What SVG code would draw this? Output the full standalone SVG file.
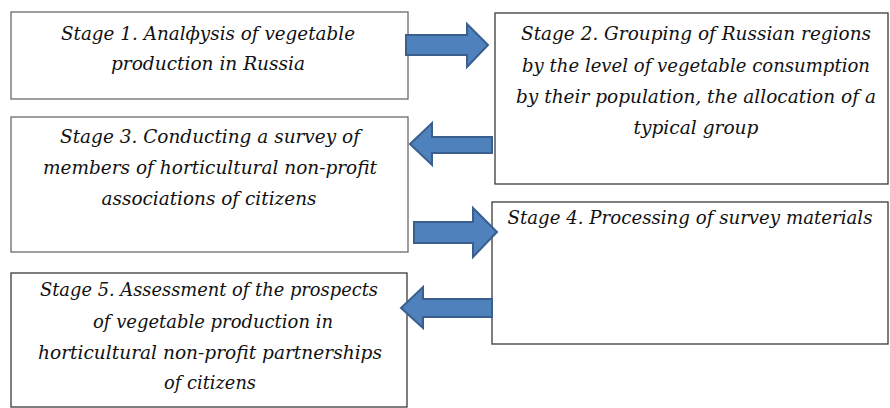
<svg xmlns="http://www.w3.org/2000/svg" width="890" height="408" viewBox="0 0 890 408">
  <style>
    .box { fill: #ffffff; stroke: #3a3a3a; stroke-width: 1.3; }
    .box.soft { stroke: #6a6a6a; }
    .lbl { font-family: "DejaVu Serif", "Liberation Serif", serif; font-style: italic; font-size: 18.5px; fill: #111111; text-anchor: middle; }
    .arrow { fill: #4f81bd; stroke: #3a5f8e; stroke-width: 2; stroke-linejoin: miter; }
  </style>
  <rect width="890" height="408" fill="#ffffff"/>

  <g id="stage1">
    <rect class="box soft" x="11" y="12" width="397" height="87"/>
    <text class="lbl" x="208" y="40" textLength="294" lengthAdjust="spacingAndGlyphs">Stage 1. Analфysis of vegetable</text>
    <text class="lbl" x="208" y="70" textLength="194" lengthAdjust="spacingAndGlyphs">production in Russia</text>
  </g>

  <g id="stage2">
    <rect class="box" x="495" y="13" width="393" height="171"/>
    <text class="lbl" x="696" y="40" textLength="350" lengthAdjust="spacingAndGlyphs">Stage 2. Grouping of Russian regions</text>
    <text class="lbl" x="696" y="72" textLength="348" lengthAdjust="spacingAndGlyphs">by the level of vegetable consumption</text>
    <text class="lbl" x="696" y="103" textLength="360" lengthAdjust="spacingAndGlyphs">by their population, the allocation of a</text>
    <text class="lbl" x="696" y="134" textLength="125" lengthAdjust="spacingAndGlyphs">typical group</text>
  </g>

  <g id="stage3">
    <rect class="box soft" x="11" y="117" width="397" height="135"/>
    <text class="lbl" x="210" y="143" textLength="300" lengthAdjust="spacingAndGlyphs">Stage 3. Conducting a survey of</text>
    <text class="lbl" x="210" y="174" textLength="334" lengthAdjust="spacingAndGlyphs">members of horticultural non-profit</text>
    <text class="lbl" x="209" y="205" textLength="215" lengthAdjust="spacingAndGlyphs">associations of citizens</text>
  </g>

  <g id="stage4">
    <rect class="box" x="492" y="202" width="396" height="142"/>
    <text class="lbl" x="690" y="224" textLength="365" lengthAdjust="spacingAndGlyphs">Stage 4. Processing of survey materials</text>
  </g>

  <g id="stage5">
    <rect class="box" x="11" y="273" width="396" height="134"/>
    <text class="lbl" x="209" y="296" textLength="338" lengthAdjust="spacingAndGlyphs">Stage 5. Assessment of the prospects</text>
    <text class="lbl" x="213" y="328" textLength="240" lengthAdjust="spacingAndGlyphs">of vegetable production in</text>
    <text class="lbl" x="210" y="359" textLength="344" lengthAdjust="spacingAndGlyphs">horticultural non-profit partnerships</text>
    <text class="lbl" x="210" y="389" textLength="92" lengthAdjust="spacingAndGlyphs">of citizens</text>
  </g>

  <g id="connectors">
    <!-- block arrows between consecutive stages -->
    <polygon class="arrow" points="406,35 467,35 467,24 488,45 467,67 467,55 406,55"/>
    <polygon class="arrow" points="492,137 432,137 432,123 410,144 432,165 432,153 492,153"/>
    <polygon class="arrow" points="414,222 473,222 473,208 497,232 473,257 473,243 414,243"/>
    <polygon class="arrow" points="492,299 423,299 423,287 401,308 423,328 423,317 492,317"/>
  </g>
</svg>
